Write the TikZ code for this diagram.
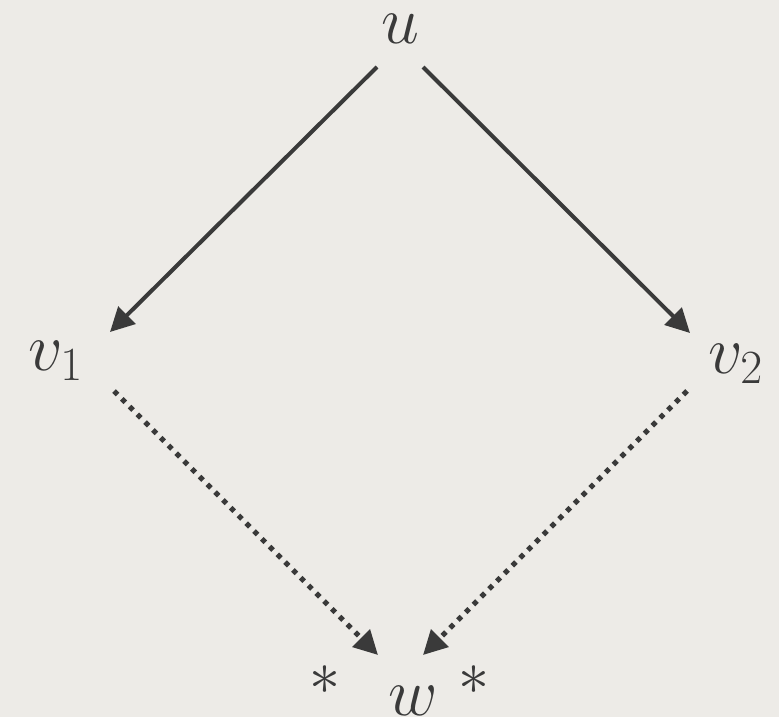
\RequirePackage{fix-cm}
\documentclass[tikz,border=0pt]{standalone}
\usetikzlibrary{arrows.meta}
\definecolor{bg}{HTML}{EDEBE7}
\definecolor{ink}{HTML}{3A3A3A}
\begin{document}
\begin{tikzpicture}[x=1pt,y=-1pt,
  lbl/.style={inner sep=0pt, text=ink, font=\fontsize{68}{80}\selectfont},
  astlbl/.style={inner sep=0pt, text=ink, font=\fontsize{62}{70}\selectfont},
  solidarrow/.style={draw=ink, line width=4pt, -{Triangle[length=24pt,width=24pt]}},
  dottedarrow/.style={draw=ink, line width=5pt, dash pattern=on 5pt off 6pt, -{Triangle[length=24pt,width=24pt]}}]
\fill[bg] (0,0) rectangle (779,717);
\useasboundingbox (0,0) rectangle (779,717);
\node[lbl, anchor=base] (u) at (400,44) {$u$};
\node[lbl, anchor=base west] (v1) at (28,370) {$v_1$};
\node[lbl, anchor=base west] (v2) at (708,373) {$v_2$};
\node[lbl, anchor=base] (w) at (413,715) {$w$};
\node[astlbl] (s1) at (325,680) {$*$};
\node[astlbl] (s2) at (474,680) {$*$};
\draw[solidarrow] ([shift={(-23,23)}]u.base) -- ([shift={(82,-38)}]v1.base west);
\draw[solidarrow] ([shift={(23,23)}]u.base) -- ([shift={(-18,-40)}]v2.base west);
\draw[dottedarrow] ([shift={(86,21)}]v1.base west) -- ([shift={(-35,-60)}]w.base);
\draw[dottedarrow] ([shift={(-21,18)}]v2.base west) -- ([shift={(10,-60)}]w.base);
\end{tikzpicture}
\end{document}
